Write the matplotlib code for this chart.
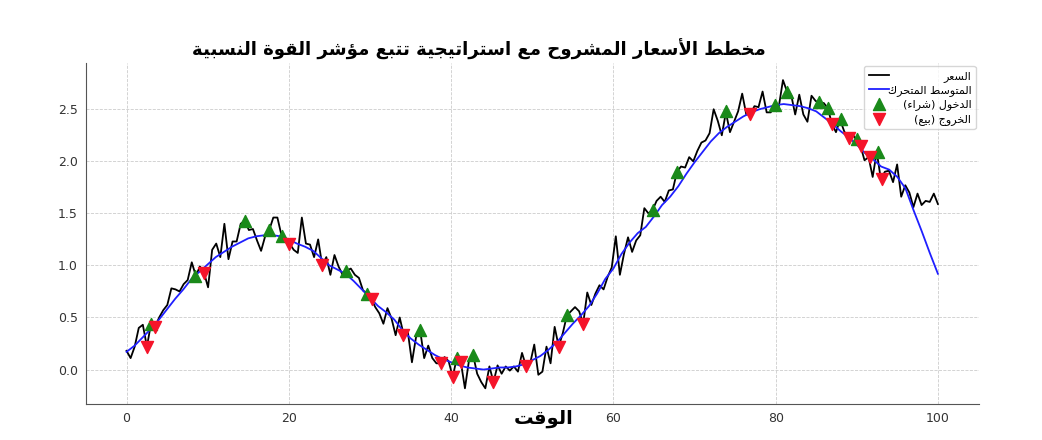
import numpy as np
import matplotlib
matplotlib.use("Agg")
import matplotlib.pyplot as plt

# ---------------- text (logical order, Arabic) ----------------
title_text = "مخطط الأسعار المشروح مع استراتيجية تتبع مؤشر القوة النسبية"
xlabel_text = "الوقت"
label_price = "السعر"
label_ma = "المتوسط المتحرك"
label_buy = "الدخول (شراء)"
label_sell = "الخروج (بيع)"

# ---------------- data ----------------
n_points = 200
price = [
    0.18, 0.11, 0.22, 0.40, 0.43, 0.22, 0.44, 0.41, 0.50, 0.57,
    0.62, 0.78, 0.77, 0.75, 0.82, 0.86, 1.03, 0.90, 0.99, 0.93,
    0.79, 1.15, 1.21, 1.08, 1.40, 1.06, 1.23, 1.23, 1.40, 1.43,
    1.34, 1.35, 1.24, 1.14, 1.28, 1.34, 1.46, 1.46, 1.29, 1.25,
    1.21, 1.15, 1.12, 1.46, 1.21, 1.20, 1.08, 1.25, 1.00, 1.08,
    0.91, 1.10, 0.99, 0.91, 0.95, 0.97, 0.91, 0.88, 0.76, 0.73,
    0.68, 0.60, 0.54, 0.44, 0.59, 0.49, 0.33, 0.50, 0.33, 0.36,
    0.07, 0.31, 0.38, 0.11, 0.23, 0.11, 0.06, 0.06, 0.12, 0.08,
    -0.07, 0.11, 0.07, -0.18, 0.09, 0.14, -0.04, -0.12, -0.18, 0.03,
    -0.12, 0.04, -0.04, 0.03, -0.01, 0.03, -0.02, 0.16, 0.03, 0.06,
    0.24, -0.05, -0.02, 0.22, 0.06, 0.41, 0.22, 0.35, 0.52, 0.56,
    0.60, 0.56, 0.44, 0.74, 0.62, 0.73, 0.81, 0.77, 0.89, 0.98,
    1.28, 0.91, 1.11, 1.27, 1.13, 1.24, 1.29, 1.55, 1.50, 1.53,
    1.62, 1.66, 1.61, 1.72, 1.73, 1.90, 1.95, 1.94, 2.04, 2.00,
    2.10, 2.18, 2.20, 2.27, 2.50, 2.39, 2.25, 2.47, 2.28, 2.38,
    2.48, 2.65, 2.45, 2.45, 2.53, 2.52, 2.67, 2.47, 2.47, 2.54,
    2.53, 2.78, 2.67, 2.64, 2.45, 2.64, 2.45, 2.38, 2.63, 2.58,
    2.56, 2.56, 2.51, 2.36, 2.28, 2.40, 2.29, 2.22, 2.26, 2.21,
    2.15, 2.01, 2.04, 1.85, 2.09, 1.83, 1.90, 1.91, 1.80, 1.97,
    1.66, 1.77, 1.70, 1.56, 1.69, 1.58, 1.62, 1.61, 1.69, 1.59,
]
time = np.linspace(0, 100, n_points)

ma_time = list(range(0, 101))
moving_avg = [
    0.17, 0.23, 0.31, 0.39, 0.48, 0.58, 0.68, 0.77, 0.87, 0.94,
    1.01, 1.08, 1.13, 1.18, 1.22, 1.26, 1.28, 1.29, 1.29, 1.28,
    1.25, 1.21, 1.18, 1.14, 1.07, 1.00, 0.96, 0.92, 0.85, 0.77,
    0.69, 0.61, 0.55, 0.48, 0.38, 0.30, 0.24, 0.19, 0.14, 0.10,
    0.07, 0.04, 0.02, 0.01, 0.00, 0.01, 0.02, 0.02, 0.03, 0.05,
    0.09, 0.13, 0.19, 0.26, 0.35, 0.44, 0.52, 0.61, 0.73, 0.87,
    0.97, 1.11, 1.22, 1.31, 1.37, 1.47, 1.58, 1.66, 1.76, 1.88,
    1.99, 2.09, 2.19, 2.27, 2.33, 2.38, 2.43, 2.47, 2.50, 2.52,
    2.54, 2.55, 2.54, 2.53, 2.51, 2.48, 2.42, 2.36, 2.29, 2.23,
    2.16, 2.08, 2.02, 1.95, 1.92, 1.85, 1.74, 1.53, 1.33, 1.12,
    0.92,
]

buy_x = [3.0, 8.5, 14.6, 17.6, 19.1, 27.1, 29.6, 36.2, 40.7, 42.7, 54.3,
         64.9, 67.9, 73.9, 79.9, 81.4, 85.4, 86.4, 88.0, 90.0, 92.6]
buy_y = [0.44, 0.90, 1.43, 1.34, 1.28, 0.95, 0.73, 0.38, 0.11, 0.14, 0.52,
         1.53, 1.90, 2.48, 2.54, 2.67, 2.57, 2.51, 2.41, 2.21, 2.09]

sell_x = [2.5, 3.5, 9.5, 20.0, 24.1, 30.2, 34.1, 38.7, 40.2, 41.2, 45.2,
          49.2, 53.3, 56.2, 76.9, 87.0, 89.0, 90.5, 91.6, 93.1]
sell_y = [0.22, 0.41, 0.93, 1.21, 1.00, 0.68, 0.33, 0.06, -0.07, 0.07, -0.12,
          0.03, 0.22, 0.44, 2.45, 2.36, 2.22, 2.15, 2.04, 1.83]

# ---------------- minimal Arabic shaping (presentation forms + RTL order) -------
FORMS = {  # isolated, final, initial, medial
    'ء': ('\uFE80', None, None, None),
    'أ': ('\uFE83', '\uFE84', None, None),
    'ؤ': ('\uFE85', '\uFE86', None, None),
    'ا': ('\uFE8D', '\uFE8E', None, None),
    'ب': ('\uFE8F', '\uFE90', '\uFE91', '\uFE92'),
    'ة': ('\uFE93', '\uFE94', None, None),
    'ت': ('\uFE95', '\uFE96', '\uFE97', '\uFE98'),
    'ج': ('\uFE9D', '\uFE9E', '\uFE9F', '\uFEA0'),
    'ح': ('\uFEA1', '\uFEA2', '\uFEA3', '\uFEA4'),
    'خ': ('\uFEA5', '\uFEA6', '\uFEA7', '\uFEA8'),
    'د': ('\uFEA9', '\uFEAA', None, None),
    'ر': ('\uFEAD', '\uFEAE', None, None),
    'س': ('\uFEB1', '\uFEB2', '\uFEB3', '\uFEB4'),
    'ش': ('\uFEB5', '\uFEB6', '\uFEB7', '\uFEB8'),
    'ط': ('\uFEC1', '\uFEC2', '\uFEC3', '\uFEC4'),
    'ع': ('\uFEC9', '\uFECA', '\uFECB', '\uFECC'),
    'ق': ('\uFED5', '\uFED6', '\uFED7', '\uFED8'),
    'ك': ('\uFED9', '\uFEDA', '\uFEDB', '\uFEDC'),
    'ل': ('\uFEDD', '\uFEDE', '\uFEDF', '\uFEE0'),
    'م': ('\uFEE1', '\uFEE2', '\uFEE3', '\uFEE4'),
    'ن': ('\uFEE5', '\uFEE6', '\uFEE7', '\uFEE8'),
    'و': ('\uFEED', '\uFEEE', None, None),
    'ي': ('\uFEF1', '\uFEF2', '\uFEF3', '\uFEF4'),
}
LAMALEF = {'ا': ('\uFEFB', '\uFEFC'), 'أ': ('\uFEF7', '\uFEF8')}
MIRROR = {'(': ')', ')': '('}


def shape_ar(text):
    toks = []
    i = 0
    while i < len(text):
        c = text[i]
        if c == 'ل' and i + 1 < len(text) and text[i + 1] in LAMALEF:
            toks.append(('LA', text[i + 1]))
            i += 2
        else:
            toks.append((c, None))
            i += 1

    def j_next(t):
        if t[0] == 'LA':
            return False
        f = FORMS.get(t[0])
        return f is not None and f[2] is not None

    def j_prev(t):
        if t[0] == 'LA':
            return True
        f = FORMS.get(t[0])
        return f is not None and f[1] is not None

    out = []
    for k, t in enumerate(toks):
        p = k > 0 and j_next(toks[k - 1]) and j_prev(t)
        nx = k + 1 < len(toks) and j_next(t) and j_prev(toks[k + 1])
        if t[0] == 'LA':
            iso, fin = LAMALEF[t[1]]
            out.append(fin if p else iso)
            continue
        f = FORMS.get(t[0])
        if f is None:
            out.append(t[0])
        elif p and nx:
            out.append(f[3])
        elif p:
            out.append(f[1])
        elif nx:
            out.append(f[2])
        else:
            out.append(f[0])
    vis = ''.join(out)[::-1]
    return ''.join(MIRROR.get(ch, ch) for ch in vis)


# ---------------- plot ----------------
plt.rcParams['font.family'] = ['DejaVu Sans']
fig = plt.figure(figsize=(10.42, 4.40), dpi=100)
ax = fig.add_axes([0.0825, 0.082, 0.857, 0.775])

ax.plot(time, price, color='black', lw=1.3, label=shape_ar(label_price), zorder=2)
ax.plot(ma_time, moving_avg, color='#1f1fff', lw=1.3, label=shape_ar(label_ma), zorder=3)
ax.scatter(buy_x, buy_y, marker='^', s=75, color='#1a8a1a', label=shape_ar(label_buy), zorder=4)
ax.scatter(sell_x, sell_y, marker='v', s=75, color='#f5142a', label=shape_ar(label_sell), zorder=4)

ax.set_xlim(-5, 105.06)
ax.set_ylim(-0.33, 2.945)
ax.set_xticks([0, 20, 40, 60, 80, 100])
ax.set_yticks([0.0, 0.5, 1.0, 1.5, 2.0, 2.5])
ax.grid(True, linestyle='--', color='#cccccc', linewidth=0.6)
ax.set_axisbelow(True)
for s in ['top', 'right']:
    ax.spines[s].set_visible(False)
for s in ['left', 'bottom']:
    ax.spines[s].set_color('#555555')
ax.tick_params(length=0, labelsize=9, colors='#333333', pad=6)

ax.set_title(shape_ar(title_text), fontsize=13.1, fontweight='bold', x=0.44, pad=5)
ax.set_xlabel(shape_ar(xlabel_text), fontsize=14, fontweight='bold')
ax.xaxis.set_label_coords(0.512, -0.015)

leg = ax.legend(loc='upper right', fontsize=8, frameon=True, borderaxespad=0.3,
                handlelength=1.8, handletextpad=-0.1, labelspacing=0.3)
leg.get_frame().set_edgecolor('#cccccc')

# right-align the RTL legend labels inside their column
fig.canvas.draw()
renderer = fig.canvas.get_renderer()
widths = [t.get_window_extent(renderer).width for t in leg.get_texts()]
wmax = max(widths)
for t, w in zip(leg.get_texts(), widths):
    t.set_x(wmax - w)

fig.savefig('out.png', dpi=100)
